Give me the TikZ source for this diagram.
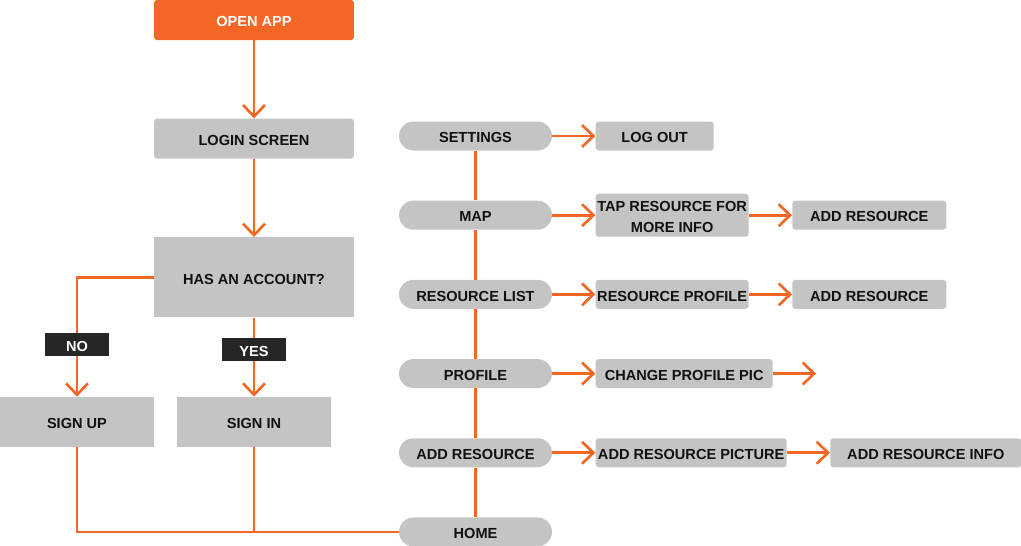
\documentclass[tikz,border=0pt]{standalone}
\usepackage{fontspec}
\setmainfont{Liberation Sans}
\usetikzlibrary{positioning,arrows.meta}

\definecolor{flowOrange}{HTML}{F46624}
\definecolor{boxGray}{HTML}{C4C4C4}
\definecolor{tagDark}{HTML}{262626}
\definecolor{textDark}{HTML}{111111}

\tikzset{
    box/.style={fill=boxGray, text=textDark, rounded corners=0.06cm, inner sep=0pt,
        minimum width=3.06cm, minimum height=0.58cm, align=center,
        text height=7.6pt, text depth=0pt,
        font=\bfseries\fontsize{8.3}{12}\selectfont},
    startbox/.style={box, fill=flowOrange, text=white, minimum width=4cm, minimum height=0.8cm},
    pill/.style={box, rounded corners=0.29cm},
    tag/.style={fill=tagDark, text=white, inner sep=0pt, minimum width=1.28cm,
        minimum height=0.46cm, text height=7.6pt, text depth=0pt,
        font=\bfseries\fontsize{8.3}{9.5}\selectfont},
    line/.style={draw=flowOrange, line width=1.5pt},
    link/.style={line, -{Straight Barb[length=6.5pt, width=12.5pt, line width=1.5pt]}}
}

\begin{document}
\begin{tikzpicture}[x=0.02cm, y=-0.02cm]
        \useasboundingbox (0,0) rectangle (1021,545);

        % Nodes
        \node[startbox] (open) at (254,20) {OPEN APP};
        \node[box, minimum width=4cm, minimum height=0.8cm, below=1.56cm of open] (login) {LOGIN SCREEN};
        \node[box, sharp corners, minimum width=4cm, minimum height=1.6cm, below=1.56cm of login] (account) {HAS AN ACCOUNT?};
        \node[box, sharp corners, minimum width=3.08cm, minimum height=1cm] (signup) at (77,422) {SIGN UP};
        \node[box, sharp corners, minimum width=3.08cm, minimum height=1cm] (signin) at (254,422) {SIGN IN};

        % Menu column
        \node[pill] (settings) at (475.5,136) {SETTINGS};
        \node[pill, below=0.99cm of settings] (map) {MAP};
        \node[pill, below=0.99cm of map] (reslist) {RESOURCE LIST};
        \node[pill, below=0.99cm of reslist] (profile) {PROFILE};
        \node[pill, below=0.99cm of profile] (addres) {ADD RESOURCE};
        \node[pill, below=0.99cm of addres] (home) {HOME};

        % Second and third steps
        \node[box, minimum width=2.36cm, right=0.86cm of settings] (logout) {LOG OUT};
        \node[box, minimum height=0.86cm, text height=19.6pt, right=0.86cm of map] (tapres) {TAP RESOURCE FOR\\MORE INFO};
        \node[box, minimum width=3.08cm, right=0.86cm of tapres] (mapadd) {ADD RESOURCE};
        \node[box, right=0.86cm of reslist] (resprofile) {RESOURCE PROFILE};
        \node[box, minimum width=3.08cm, right=0.86cm of resprofile] (listadd) {ADD RESOURCE};
        \node[box, minimum width=3.54cm, right=0.86cm of profile] (changepic) {CHANGE PROFILE PIC};
        \coordinate[right=0.86cm of changepic] (picend);
        \node[box, minimum width=3.82cm, right=0.86cm of addres] (addpic) {ADD RESOURCE PICTURE};
        \node[box, minimum width=3.82cm, right=0.86cm of addpic] (addinfo) {ADD RESOURCE INFO};

        % Arrows
        \draw[link] (open) -- (login);
        \draw[link] (login) -- (account);
        \draw[link] (account.west) -| (signup.north);
        \draw[link] (account) -- (signin);
        \draw[line] (signup) |- (home);
        \draw[line] (signin) -- (signin |- home);

        \foreach \a/\b in {settings/map, map/reslist, reslist/profile, profile/addres, addres/home}
            \draw[line] (\a) -- (\b);

        \draw[link] (settings) -- (logout);
        \draw[link] (map) -- (tapres);
        \draw[link] (tapres) -- (mapadd);
        \draw[link] (reslist) -- (resprofile);
        \draw[link] (resprofile) -- (listadd);
        \draw[link] (profile) -- (changepic);
        \draw[link] (changepic) -- (picend);
        \draw[link] (addres) -- (addpic);
        \draw[link] (addpic) -- (addinfo);

        % Labels on the branches
        \node[tag] (no) at (77,344.5) {NO};
        \node[tag] (yes) at (254,349.5) {YES};
    \end{tikzpicture}
\end{document}
